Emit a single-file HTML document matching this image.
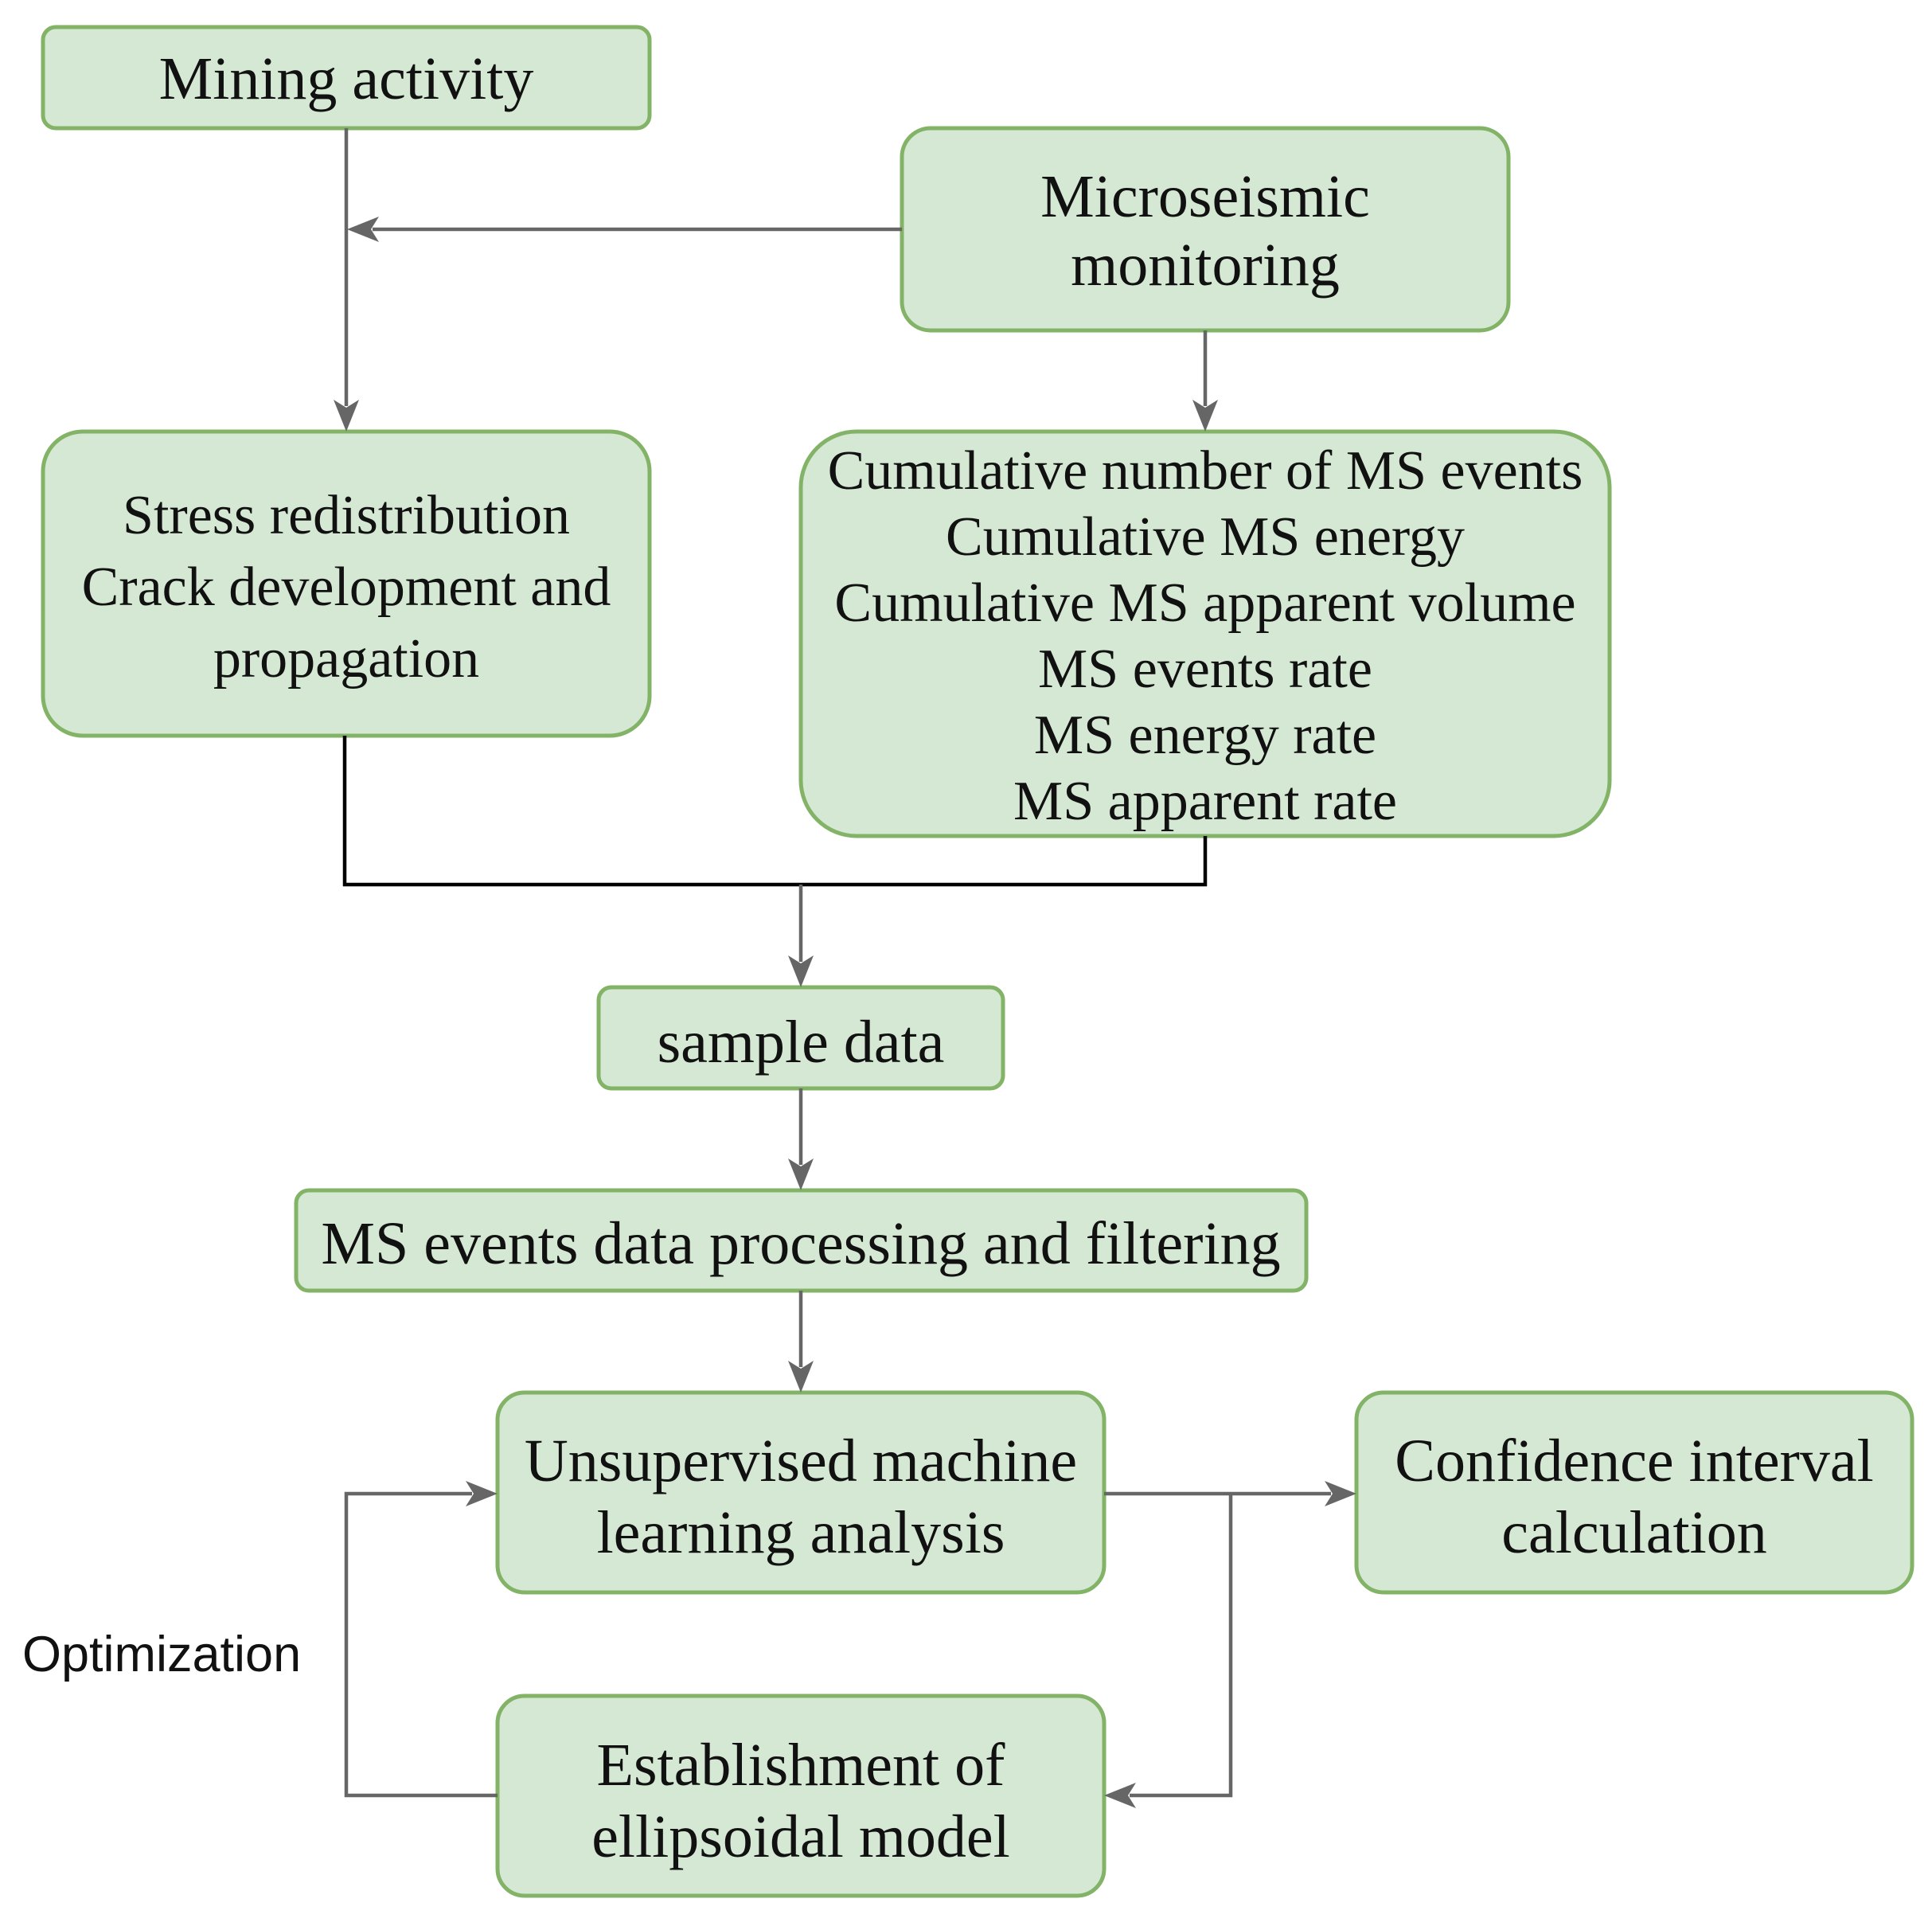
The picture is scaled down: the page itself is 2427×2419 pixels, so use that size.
<!DOCTYPE html>
<html><head><style>html,body{margin:0;padding:0;background:#fff}</style></head>
<body>
<svg width="2427" height="2414" viewBox="0 0 2427 2414" xmlns="http://www.w3.org/2000/svg">
<g fill="#d5e8d4" stroke="#82b366" stroke-width="5">
<rect x="54" y="34" width="762" height="127" rx="16"/>
<rect x="1133" y="161" width="762" height="254" rx="36"/>
<rect x="54" y="542" width="762" height="382" rx="50"/>
<rect x="1006" y="542" width="1016" height="508" rx="70"/>
<rect x="752" y="1240" width="508" height="127" rx="16"/>
<rect x="372" y="1495" width="1269" height="126" rx="16"/>
<rect x="625" y="1749" width="762" height="251" rx="34"/>
<rect x="1704" y="1749" width="698" height="251" rx="34"/>
<rect x="625" y="2130" width="762" height="251" rx="34"/>
</g>
<g stroke="#666" stroke-width="4.5" fill="none">
<path d="M435 161V510"/>
<path d="M1133 288H468"/>
<path d="M1514 415V510"/>
<path d="M433 924V1111H1514V1050" stroke="#000"/>
<path d="M1006 1111V1208"/>
<path d="M1006 1367V1463"/>
<path d="M1006 1621V1717"/>
<path d="M1387 1876H1672"/>
<path d="M1546 1876V2255H1419"/>
<path d="M625 2255H435V1876H593"/>
</g>
<g fill="#666">
<path d="M435 542l-16-40l16 10l16-10z"/>
<path d="M436 288l40-16l-10 16l10 16z"/>
<path d="M1514 542l-16-40l16 10l16-10z"/>
<path d="M1006 1240l-16-40l16 10l16-10z"/>
<path d="M1006 1495l-16-40l16 10l16-10z"/>
<path d="M1006 1749l-16-40l16 10l16-10z"/>
<path d="M1704 1876l-40-16l10 16l-10 16z"/>
<path d="M1387 2255l40-16l-10 16l10 16z"/>
<path d="M625 1876l-40-16l10 16l-10 16z"/>
</g>
<g font-family="Liberation Serif, serif" font-size="76" fill="#111" text-anchor="middle">
<text x="435" y="124">Mining activity</text>
<text x="1514" y="272">Microseismic</text>
<text x="1514" y="358">monitoring</text>
<g font-size="70">
<text x="435" y="670">Stress redistribution</text>
<text x="435" y="760">Crack development and</text>
<text x="435" y="850">propagation</text>
</g>
<g font-size="70">
<text x="1514" y="614">Cumulative number of MS events</text>
<text x="1514" y="697">Cumulative MS energy</text>
<text x="1514" y="780">Cumulative MS apparent volume</text>
<text x="1514" y="863">MS events rate</text>
<text x="1514" y="946">MS energy rate</text>
<text x="1514" y="1029">MS apparent rate</text>
</g>
<text x="1006" y="1334">sample data</text>
<text x="1006" y="1587">MS events data processing and filtering</text>
<text x="1006" y="1860">Unsupervised machine</text>
<text x="1006" y="1950">learning analysis</text>
<text x="2053" y="1860">Confidence interval</text>
<text x="2053" y="1950">calculation</text>
<text x="1006" y="2242">Establishment of</text>
<text x="1006" y="2332">ellipsoidal model</text>
</g>
<text x="28" y="2099" font-family="Liberation Sans, sans-serif" font-size="63" fill="#111">Optimization</text>
</svg>
</body></html>
